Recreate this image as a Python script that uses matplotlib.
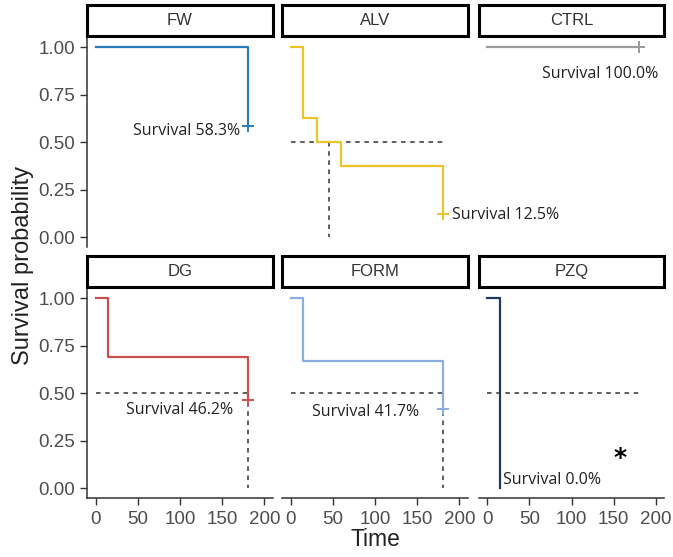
import matplotlib
matplotlib.use("Agg")
import matplotlib.pyplot as plt
from matplotlib.patches import Rectangle

# ---- data ----
groups = ["FW", "ALV", "CTRL", "DG", "FORM", "PZQ"]
colors = ["#2b7bba", "#ecc32a", "#9a9a9a", "#c9524f", "#8aaee0", "#1f3a60"]

fw_time = [0, 180, 180]
fw_surv = [1.0, 1.0, 0.583]
alv_time = [0, 14, 31, 60, 180, 180]
alv_surv = [1.0, 0.625, 0.5, 0.375, 0.375, 0.125]
ctrl_time = [0, 180]
ctrl_surv = [1.0, 1.0]
dg_time = [0, 14, 180, 180]
dg_surv = [1.0, 0.692, 0.692, 0.462]
form_time = [0, 14, 180, 180]
form_surv = [1.0, 0.667, 0.667, 0.417]
pzq_time = [0, 15]
pzq_surv = [1.0, 0.0]

times = [fw_time, alv_time, ctrl_time, dg_time, form_time, pzq_time]
survs = [fw_surv, alv_surv, ctrl_surv, dg_surv, form_surv, pzq_surv]

censor_time = [180, 180, 180, 180, 180, None]
censor_surv = [0.583, 0.125, 1.0, 0.462, 0.417, None]

median_time = [None, 45.5, None, 180, 180, 15]

labels = ["Survival 58.3%", "Survival 12.5%", "Survival 100.0%",
          "Survival 46.2%", "Survival 41.7%", "Survival 0.0%"]
label_x = [171, 191, 203, 163, 152, 19]
label_y = [0.56, 0.12, 0.86, 0.414, 0.40, 0.046]
label_ha = ["right", "left", "right", "right", "right", "left"]

x_ticks = [0, 50, 100, 150, 200]
y_ticks = [0.0, 0.25, 0.5, 0.75, 1.0]
y_ticklabels = ["0.00", "0.25", "0.50", "0.75", "1.00"]

# ---- layout (pixels) ----
W, H = 673, 557
fig = plt.figure(figsize=(W / 100, H / 100), dpi=100)

col_left = [87.3, 282.3, 478.9]
col_w = 185.5
row_top = [37.5, 288.5]
row_h = 209.5
strip_h = 31
strip_gap = 1.5

axis_col = "#333333"
tick_col = "#4d4d4d"

for i, g in enumerate(groups):
    r, c = divmod(i, 3)
    l = col_left[c]
    t = row_top[r]
    ax = fig.add_axes([l / W, 1 - (t + row_h) / H, col_w / W, row_h / H])
    ax.set_facecolor("none")
    ax.set_xlim(-10, 210)
    ax.set_ylim(-0.05, 1.05)
    for s in ["top", "right"]:
        ax.spines[s].set_visible(False)
    ax.spines["left"].set_visible(c == 0)
    ax.spines["bottom"].set_visible(r == 1)
    for s in ["left", "bottom"]:
        ax.spines[s].set_color(axis_col)
        ax.spines[s].set_linewidth(1.1)
    if c == 0:
        ax.set_yticks(y_ticks)
        ax.set_yticklabels(y_ticklabels)
    else:
        ax.set_yticks([])
    if r == 1:
        ax.set_xticks(x_ticks)
    else:
        ax.set_xticks([])
    ax.tick_params(axis="both", colors=axis_col, labelcolor=tick_col,
                   labelsize=13.5, length=5, width=1, pad=4)
    for lab in ax.get_xticklabels() + ax.get_yticklabels():
        lab.set_family("Liberation Sans")

    # median lines
    if median_time[i] is not None:
        ax.plot([0, 180], [0.5, 0.5], ls=(0, (3, 3)), color="#333333", lw=1.1, zorder=2)
        ax.plot([median_time[i], median_time[i]], [0.5, 0], ls=(0, (3, 3)),
                color="#333333", lw=1.1, zorder=2)

    ax.step(times[i], survs[i], where="post", color=colors[i], lw=1.6, zorder=3)
    if censor_time[i] is not None:
        ax.plot([censor_time[i]], [censor_surv[i]], marker="+", ms=9, mew=1.4,
                color=colors[i], zorder=4)

    ax.text(label_x[i], label_y[i], labels[i], ha=label_ha[i], va="center",
            fontsize=11.5, family="Open Sans", color="#222222", clip_on=False,
            zorder=5)
    if g == "PZQ":
        ax.text(157, 0.16, "*", ha="center", va="center", fontsize=18,
                fontweight="bold", color="black")

    # strip
    sax = fig.add_axes([l / W, 1 - (t - strip_gap) / H, col_w / W, strip_h / H])
    sax.set_xlim(0, 1)
    sax.set_ylim(0, 1)
    sax.axis("off")
    sax.add_patch(Rectangle((0, 0), 1, 1, transform=sax.transAxes, facecolor="white",
                            edgecolor="black", lw=2.2, clip_on=False))
    sax.text(0.5, 0.5, g, ha="center", va="center", fontsize=12,
             family="Liberation Sans", color="#333333")

fig.text(23 / W, 1 - 265.5 / H, "Survival probability", rotation=90, ha="center",
         va="center", fontsize=17, family="Liberation Sans", color="#222222")
fig.text(375 / W, 1 - 540 / H, "Time", ha="center", va="center", fontsize=16.5,
         family="Liberation Sans", color="#222222")

fig.savefig("out.png", dpi=100, facecolor="white")
